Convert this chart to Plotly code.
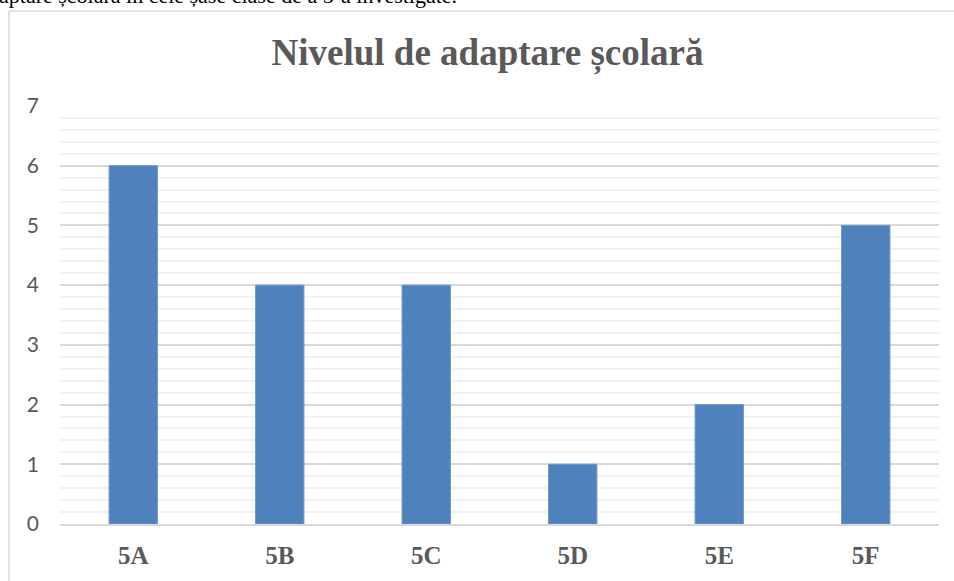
import plotly.graph_objects as go

classes = ["5A", "5B", "5C", "5D", "5E", "5F"]
scores = [6, 4, 4, 1, 2, 5]

title_text = "Nivelul de adaptare școlară"
caption_text = "aptare școlară în cele șase clase de a 5-a investigate."

W, H = 954, 581
L, R, T, B = 60, 15, 106, 57
pw, ph = W - L - R, H - T - B


def px_x(x):
    return (x - L) / pw


def px_y(y):
    return 1 - (y - T) / ph


fig = go.Figure()
fig.add_trace(go.Bar(
    x=classes,
    y=scores,
    marker=dict(color="#4f81bd", line=dict(color="#6d96c8", width=1)),
    showlegend=False,
))

# frame of the embedded chart (left and top edges visible)
fig.add_shape(type="line", xref="paper", yref="paper",
              x0=px_x(9), x1=px_x(9), y0=px_y(11), y1=px_y(600),
              line=dict(color="#d9d9d9", width=1.5))
fig.add_shape(type="line", xref="paper", yref="paper",
              x0=px_x(9), x1=px_x(970), y0=px_y(11), y1=px_y(11),
              line=dict(color="#d9d9d9", width=1.5))

# document text cut off above the chart
fig.add_annotation(
    text=caption_text, showarrow=False,
    xref="paper", yref="paper",
    x=px_x(-3), y=px_y(10), xanchor="left", yanchor="bottom",
    font=dict(family="Liberation Serif", size=22, color="#000000"),
)

fig.update_layout(
    width=W, height=H,
    margin=dict(l=L, r=R, t=T, b=B, autoexpand=False),
    plot_bgcolor="white",
    paper_bgcolor="white",
    bargap=0.67,
    title=dict(
        text=f"<b>{title_text}</b>",
        x=487.5 / W, xref="container", xanchor="center",
        y=1 - 52 / H, yref="container", yanchor="middle",
        font=dict(family="Liberation Serif", size=37, color="#595959"),
    ),
)
fig.update_xaxes(
    showgrid=False, zeroline=False, showline=True,
    linecolor="#d9d9d9", linewidth=1.5,
    tickvals=classes,
    ticktext=[f"<b>{c}</b>" for c in classes],
    tickfont=dict(family="Liberation Serif", size=25, color="#595959"),
    ticklabelstandoff=8,
    automargin=False,
)
fig.update_yaxes(
    range=[0, 7], dtick=1,
    showgrid=True, gridcolor="#d9d9d9", gridwidth=1.5,
    zeroline=False, showline=False,
    minor=dict(dtick=0.2, showgrid=True, gridcolor="#f2f2f2", gridwidth=1.5),
    tickfont=dict(family="Lato", size=21, color="#595959"),
    ticklabelstandoff=20,
    automargin=False,
)

fig.write_html(
    "out.html",
    config={"displayModeBar": False},
    post_script="document.body.style.margin='0';",
)
